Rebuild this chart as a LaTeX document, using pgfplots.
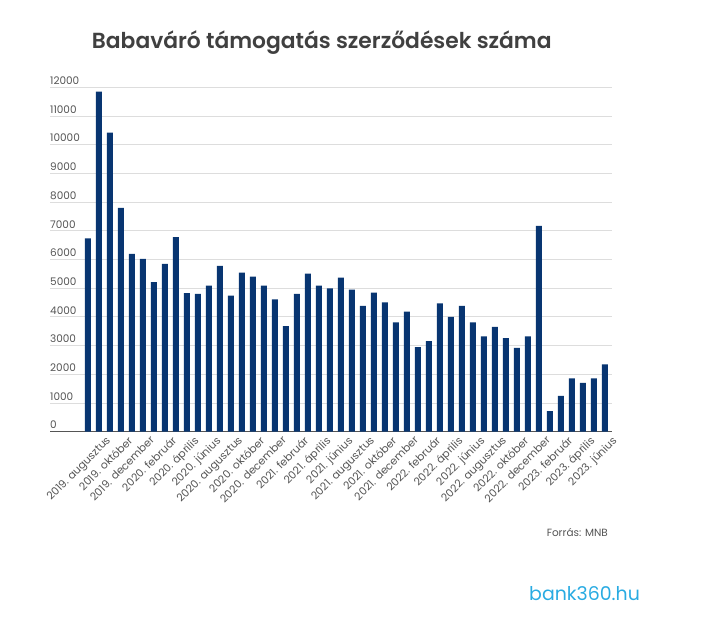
\documentclass[border=0pt]{standalone}
\usepackage{fontspec}
\setmainfont{Poppins}
\newfontfamily\titlefont{Poppins}[UprightFont=*-SemiBold]
\usepackage{pgfplots}
\pgfplotsset{compat=1.18}
\definecolor{barblue}{RGB}{8,53,113}
\definecolor{txtgray}{RGB}{85,85,85}
\definecolor{titlegray}{RGB}{64,64,64}
\definecolor{gridgray}{RGB}{221,221,221}
\definecolor{logoblue}{RGB}{41,171,226}
\begin{document}
\begin{tikzpicture}
\useasboundingbox (0,0) rectangle (705bp,630bp);
\begin{axis}[
  at={(50bp,198.3bp)}, anchor=south west,
  scale only axis, width=562bp, height=344.4bp,
  xmin=-3.45, xmax=47.64, ymin=0, ymax=12000,
  ybar, bar width=6bp,
  axis x line*=bottom, axis y line*=left,
  y axis line style={draw=none},
  x axis line style={draw=txtgray, line width=1.3pt},
  ymajorgrids, grid style={draw=gridgray, line width=0.8pt},
  ytick={0,1000,...,12000},
  scaled y ticks=false,
  major tick length=0pt,
  /pgf/number format/assume math mode=true,
  /pgf/number format/1000 sep={},
  yticklabel style={anchor=south west, inner sep=0pt, yshift=2.5bp, font=\fontsize{10.5}{12}\selectfont, text=txtgray},
  xtick={1,3,...,47},
  xticklabels={2019. augusztus, 2019. október, 2019. december, 2020. február, 2020. április, 2020. június, 2020. augusztus, 2020. október, 2020. december, 2021. február, 2021. április, 2021. június, 2021. augusztus, 2021. október, 2021. december, 2022. február, 2022. április, 2022. június, 2022. augusztus, 2022. október, 2022. december, 2023. február, 2023. április, 2023. június},
  xticklabel style={rotate=45, anchor=north east, inner sep=1pt, xshift=3bp, yshift=-6bp, font=\fontsize{10.8}{12}\selectfont, text=txtgray},
]
\addplot[fill=barblue, draw=none] coordinates {
(0,6740) (1,11850) (2,10420) (3,7800) (4,6200) (5,6020) (6,5210) (7,5850)
(8,6780) (9,4830) (10,4800) (11,5090) (12,5780) (13,4740) (14,5540) (15,5400)
(16,5090) (17,4610) (18,3680) (19,4800) (20,5510) (21,5090) (22,4990) (23,5370)
(24,4950) (25,4380) (26,4850) (27,4510) (28,3810) (29,4180) (30,2950) (31,3160)
(32,4470) (33,4000) (34,4380) (35,3810) (36,3320) (37,3650) (38,3260) (39,2920)
(40,3320) (41,7170) (42,720) (43,1250) (44,1860) (45,1700) (46,1860) (47,2350)
};
\end{axis}
\node[anchor=base west, inner sep=0pt, text=titlegray, font=\titlefont\fontsize{21.9}{25}\selectfont] at (91.7bp,581.7bp) {Babaváró támogatás szerződések száma};
\node[anchor=base east, inner sep=0pt, text=txtgray, font=\fontsize{10.5}{12}\selectfont] at (608bp,93bp) {Forrás: MNB};
\node[anchor=base west, inner sep=0pt, text=logoblue, font=\fontsize{19}{22}\selectfont] at (529bp,30bp) {bank360.hu};
\end{tikzpicture}
\end{document}
